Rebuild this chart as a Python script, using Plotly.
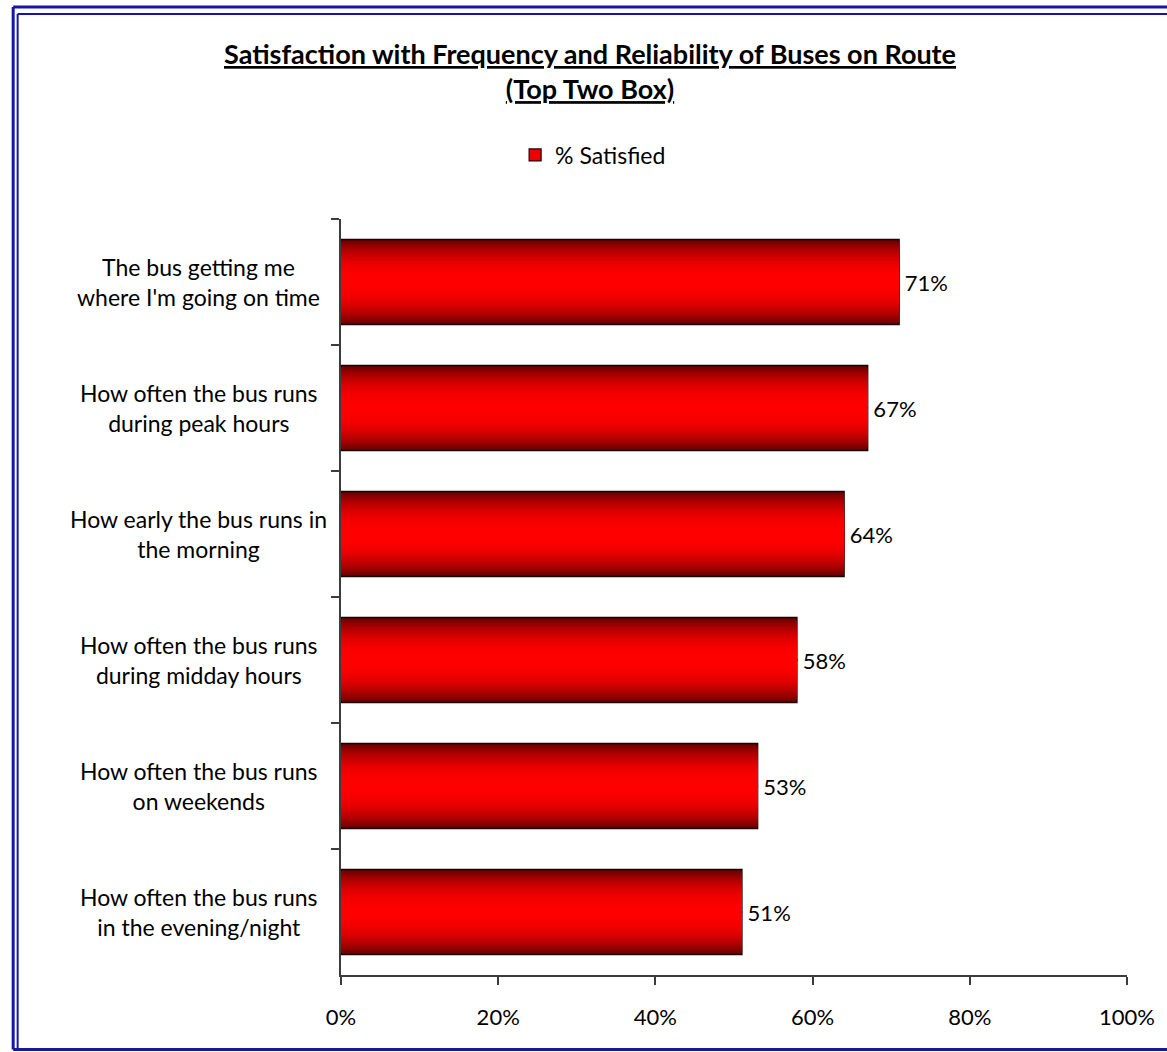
import plotly.graph_objects as go

# ---- data ----
categories = [
    "The bus getting me<br>where I'm going on time",
    "How often the bus runs<br>during peak hours",
    "How early the bus runs in<br>the morning",
    "How often the bus runs<br>during midday hours",
    "How often the bus runs<br>on weekends",
    "How often the bus runs<br>in the evening/night",
]
satisfied = [0.71, 0.67, 0.64, 0.58, 0.53, 0.51]
series_name = "% Satisfied"
title_lines = ["Satisfaction with Frequency and Reliability of Buses on Route", "(Top Two Box)"]
x_ticks = [0, 0.2, 0.4, 0.6, 0.8, 1.0]

# ---- layout geometry (pixels) ----
W, H = 1167, 1052
L, R, T, B = 341, 36, 219, 77
PW, PH = W - L - R, H - T - B
FONT = "Lato, 'Open Sans', sans-serif"


def xp(px):
    return (px - L) / PW


def yp(py):
    return (H - B - py) / PH


fig = go.Figure()

# legend-only carrier (hidden beneath the bars)
fig.add_trace(go.Bar(
    x=satisfied, y=categories, orientation="h", width=0.001,
    name=series_name, showlegend=True,
    marker=dict(color="#ee0000", line=dict(color="#2a0000", width=1.2)),
    hoverinfo="skip",
))

# gradient bars built from overlaid layers
BAR_W = 0.675
N = 24
dark = (105, 0, 0)
bright = (255, 0, 0)
for k in range(N):
    f = 1 - k / N
    w = BAR_W * f
    t = f ** 2.4
    c = tuple(int(bright[i] + (dark[i] - bright[i]) * t) for i in range(3))
    first = k == 0
    fig.add_trace(go.Bar(
        x=satisfied, y=categories, orientation="h", width=w,
        showlegend=False,
        marker=dict(color="rgb(%d,%d,%d)" % c,
                    line=dict(color="#1a0000", width=1.5 if first else 0)),
        text=["\u2009" + f"{v:.0%}" for v in satisfied] if first else None,
        textposition="outside" if first else "none",
        textfont=dict(family=FONT, size=22, color="#000"),
        cliponaxis=False,
        hoverinfo="skip",
    ))

# category labels (centered, two lines)
for cat in categories:
    fig.add_annotation(
        x=xp(198), xref="paper", y=cat, yref="y",
        text=cat, showarrow=False, xanchor="center", align="center",
        font=dict(family=FONT, size=23, color="#000"),
    )

# double blue frame (top, left, bottom edges only)
frame_color = "#1616a2"
for x0, y0, wdt in [(11.5, 7, 3), (16, 14, 2)]:
    fig.add_shape(type="line", xref="paper", yref="paper",
                  x0=xp(x0), x1=xp(W + 5), y0=yp(y0), y1=yp(y0),
                  line=dict(color=frame_color, width=wdt), layer="below")
    fig.add_shape(type="line", xref="paper", yref="paper",
                  x0=xp(x0), x1=xp(x0), y0=yp(y0), y1=yp(1049.5),
                  line=dict(color=frame_color, width=wdt), layer="below")
fig.add_shape(type="line", xref="paper", yref="paper",
              x0=xp(11.5), x1=xp(W + 5), y0=yp(1049.5), y1=yp(1049.5),
              line=dict(color=frame_color, width=3), layer="below")

fig.update_layout(
    width=W, height=H,
    margin=dict(l=L, r=R, t=T, b=B),
    paper_bgcolor="white", plot_bgcolor="white",
    barmode="overlay",
    font=dict(family=FONT, size=22, color="#000"),
    title=dict(
        text="<br>".join(f"<b><u>{s}</u></b>" for s in title_lines),
        x=590 / W, xref="container", xanchor="center",
        y=1 - 64 / H, yref="container", yanchor="top",
        font=dict(family=FONT, size=27, color="#000"),
    ),
    legend=dict(
        orientation="h", x=xp(516), xref="paper", xanchor="left",
        y=1 - 155 / H, yref="container", yanchor="middle",
        font=dict(family=FONT, size=23, color="#000"),
        bgcolor="rgba(0,0,0,0)",
    ),
    xaxis=dict(
        range=[0, 1], tickvals=x_ticks, tickformat=".0%",
        showgrid=False, zeroline=False,
        showline=True, linecolor="#3c3c3c", linewidth=1.5,
        ticks="outside", ticklen=8, tickcolor="#3c3c3c", tickwidth=1.5,
        ticklabelstandoff=14,
        tickfont=dict(family=FONT, size=22, color="#000"),
    ),
    yaxis=dict(
        autorange="reversed", showgrid=False, zeroline=False,
        showline=True, linecolor="#3c3c3c", linewidth=1.5,
        ticks="outside", ticklen=8, tickcolor="#3c3c3c", tickwidth=1.5,
        tickson="boundaries", showticklabels=False,
    ),
    showlegend=True,
)

fig.write_html(
    "out.html", config={"displayModeBar": False},
    post_script=("document.body.style.margin='0';"
                 "document.body.style.overflow='hidden';"
                 "document.documentElement.style.overflow='hidden';"),
)
